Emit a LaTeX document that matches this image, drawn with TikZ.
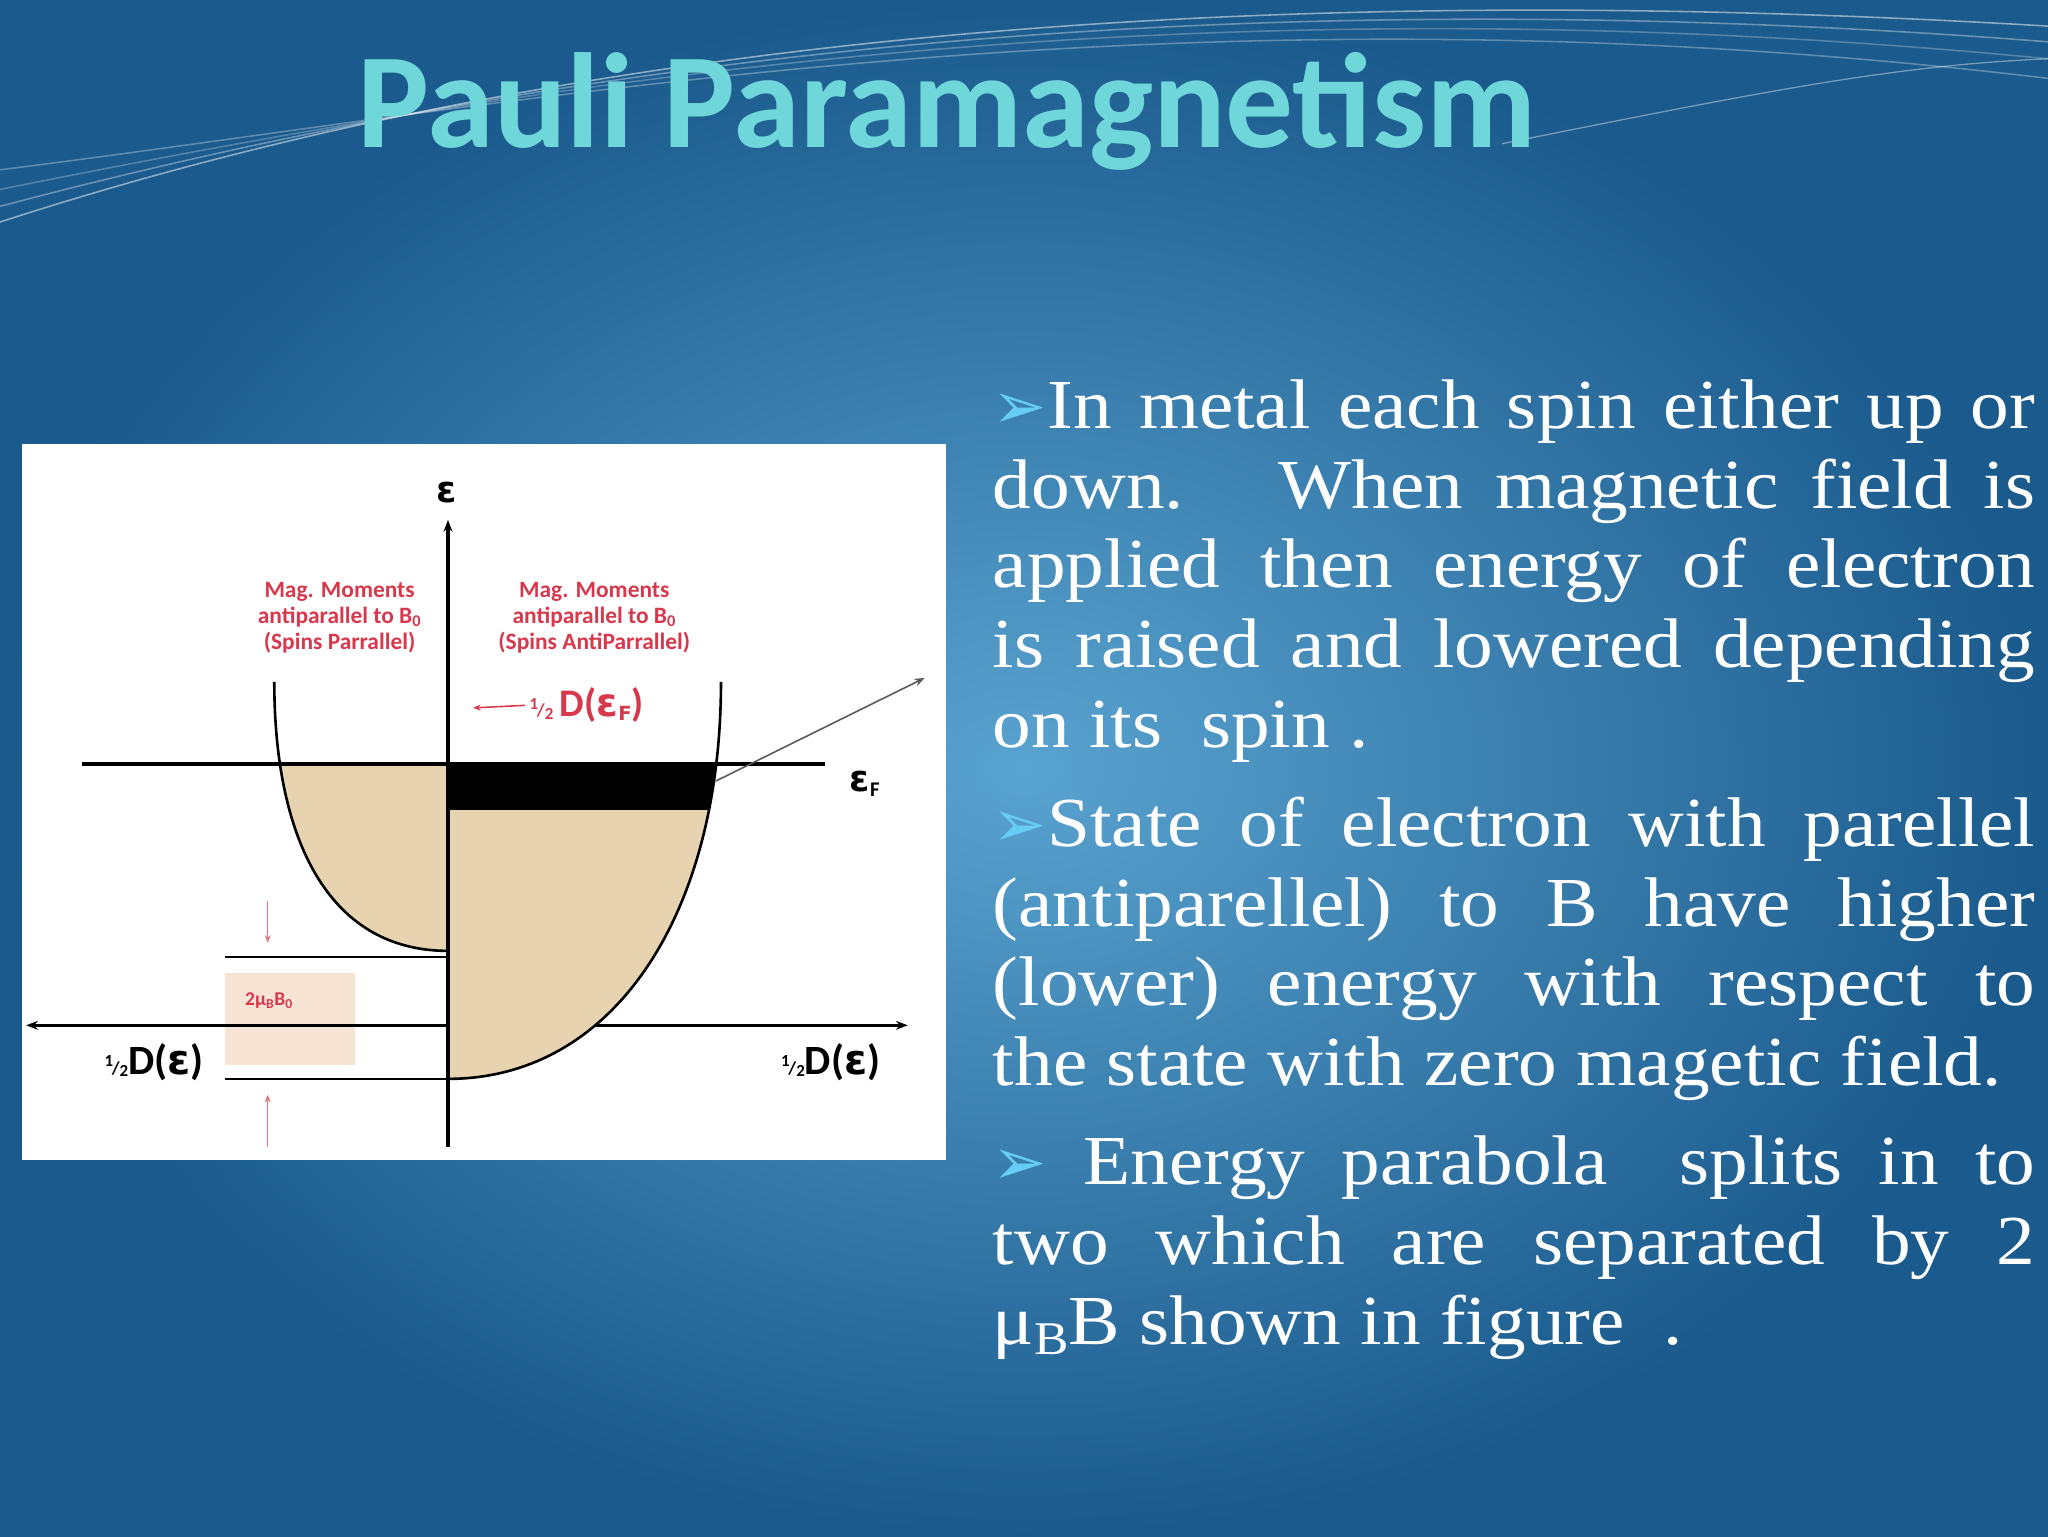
\documentclass[tikz,border=0pt]{standalone}
\usepackage{fontspec}
\setmainfont[FakeStretch=1.1]{Liberation Serif}
\newfontfamily\ttl{Carlito}
\newfontfamily\djf{DejaVu Sans}
\usetikzlibrary{arrows.meta}
\definecolor{redl}{HTML}{D8384C}
\definecolor{tan}{HTML}{E8D3B1}
\definecolor{pinkb}{HTML}{F8E4D4}
\definecolor{bgmid}{HTML}{3C93C8}
\definecolor{bgdark}{HTML}{1A5A8C}
\definecolor{ttlc}{HTML}{6FD6DA}
\newcommand{\mybul}{{\djf\fontsize{50}{50}\selectfont\color{cyan!60!white}➢}}
\newcommand{\jline}[1]{\makebox[798bp][s]{#1}}
\newcommand{\half}{\raisebox{6bp}{\fontsize{13}{13}\selectfont 1}\hspace{-1bp}{\fontsize{14}{14}\selectfont/}\raisebox{-2bp}{\fontsize{13}{13}\selectfont 2}}
\begin{document}
\begin{tikzpicture}[x=1bp,y=-1bp,
  lbl/.style={font=\ttl\bfseries\fontsize{18}{20}\selectfont,text=redl,align=center,inner sep=0},
  ax/.style={line width=2.5bp,black},
  txt/.style={anchor=base west,inner sep=0,font=\fontsize{54}{60}\selectfont,text=white}]
\useasboundingbox (0,0) rectangle (1568,1176);
\fill[bgdark] (0,0) rectangle (1568,1176);
\shade[inner color=bgmid!85!white, outer color=bgdark] (0,0) rectangle (1568,1176);
% waves
\foreach \s/\o in {0/0.5,12/0.35,25/0.25,40/0.3}{
  \draw[white,opacity=\o,line width=1.2bp] (0,170-\s) .. controls (400,40+\s) and (900,-20) .. (1568,20+\s);
}
\draw[white,opacity=0.4,line width=1bp] (1150,110) .. controls (1350,70) and (1450,50) .. (1568,45);
\node[font=\ttl\bfseries\fontsize{104}{104}\selectfont,text=ttlc] (title) at (725,85) {Pauli Paramagnetism};
% figure
\fill[white] (17,340) rectangle (724,888);
\fill[pinkb] (172,745) rectangle (272,815);
% axes
\coordinate (hl) at (20,785); \coordinate (hr) at (695,785);
\draw[ax,-{Stealth[length=9bp]}] (343,785) -- (hl);
\draw[ax,-{Stealth[length=9bp]}] (343,785) -- (hr);
% fills
\begin{scope}
\clip (343,585) rectangle (600,830);
\fill[tan] (343,826) .. controls (470,826) and (552,700) .. (552,522) -- (343,522) -- cycle;
\end{scope}
\begin{scope}
\clip (343,585) rectangle (600,620);
\fill[black] (343,826) .. controls (470,826) and (552,700) .. (552,522) -- (343,522) -- cycle;
\end{scope}
\begin{scope}
\clip (150,585) rectangle (343,730);
\fill[tan] (343,728) .. controls (250,728) and (210,640) .. (210,522) -- (343,522) -- cycle;
\end{scope}
\draw[line width=2bp] (343,826) .. controls (470,826) and (552,700) .. (552,522);
\draw[line width=2bp] (343,728) .. controls (250,728) and (210,640) .. (210,522);
\draw[ax] (63,585) -- (632,585);
\coordinate (vb) at (343,878); \coordinate (vt) at (343,398);
\draw[ax,-{Stealth[length=9bp]}] (vb) -- (vt);
\draw[line width=1.5bp] (172,733) -- (343,733);
\draw[line width=1.5bp] (172,826) -- (343,826);
\draw[gray!70!black,line width=1.2bp,-{Stealth[length=8bp]}] (548,598) -- (708,519);
% labels
\node[font=\ttl\bfseries\fontsize{28}{28}\selectfont] (eps) at (342,377) {\djf\bfseries ε};
\node[font=\ttl\bfseries\fontsize{28}{28}\selectfont] (ef) at (662,600) {{\djf\bfseries ε}\raisebox{-4bp}{\fontsize{16}{16}\selectfont F}};
\node[font=\ttl\bfseries\fontsize{32}{32}\selectfont] (dl) at (118,813) {\half D({\djf ε})};
\node[font=\ttl\bfseries\fontsize{32}{32}\selectfont] (dr) at (636,813) {\half D({\djf ε})};
\node[lbl] (ml) at (260,473) {Mag. Moments\\antiparallel to B\textsubscript{0}\\(Spins Parrallel)};
\node[lbl] (mr) at (455,473) {Mag. Moments\\antiparallel to B\textsubscript{0}\\(Spins AntiParrallel)};
\node[font=\ttl\bfseries\fontsize{30}{30}\selectfont,text=redl,anchor=west] (df) at (402,540) {\half\,D({\djf ε\raisebox{-3bp}{\fontsize{15}{15}\selectfont F}})};
\coordinate (dfa) at (362,542);
\draw[redl,line width=1.2bp,-{Stealth[length=6bp]}] (df.west) -- (dfa);
\node[lbl,font=\ttl\bfseries\fontsize{15}{15}\selectfont] (mu) at (206,766) {2μ\textsubscript{B}B\textsubscript{0}};
\coordinate (a1) at (205,690); \coordinate (a2) at (205,722);
\coordinate (b1) at (205,878); \coordinate (b2) at (205,838);
\draw[redl!70,line width=1bp,-{Stealth[length=6bp]}] (a1) -- (a2);
\draw[redl!70,line width=1bp,-{Stealth[length=6bp]}] (b1) -- (b2);
% text
\node[txt] (t1) at (760,328) {\jline{\mybul In metal each spin either up or}};
\node[txt] (t2) at (760,389) {\jline{down. \ When magnetic field is}};
\node[txt] (t3) at (760,450) {\jline{applied then energy of electron}};
\node[txt] (t4) at (760,511) {\jline{is raised and lowered depending}};
\node[txt] (t5) at (760,572) {on its \ spin .};
\node[txt] (t6) at (760,648) {\jline{\mybul State of electron with parellel}};
\node[txt] (t7) at (760,709) {\jline{(antiparellel) to B have higher}};
\node[txt] (t8) at (760,770) {\jline{(lower) energy with respect to}};
\node[txt] (t9) at (760,831) {the state with zero magetic field.};
\node[txt] (t10) at (760,907) {\jline{\mybul\ Energy parabola \ splits in to}};
\node[txt] (t11) at (760,968) {\jline{two which are separated by 2}};
\node[txt] (t12) at (760,1029) {μ\raisebox{-8bp}{\fontsize{36}{36}\selectfont B}B shown in figure \ .};
\end{tikzpicture}
\end{document}
